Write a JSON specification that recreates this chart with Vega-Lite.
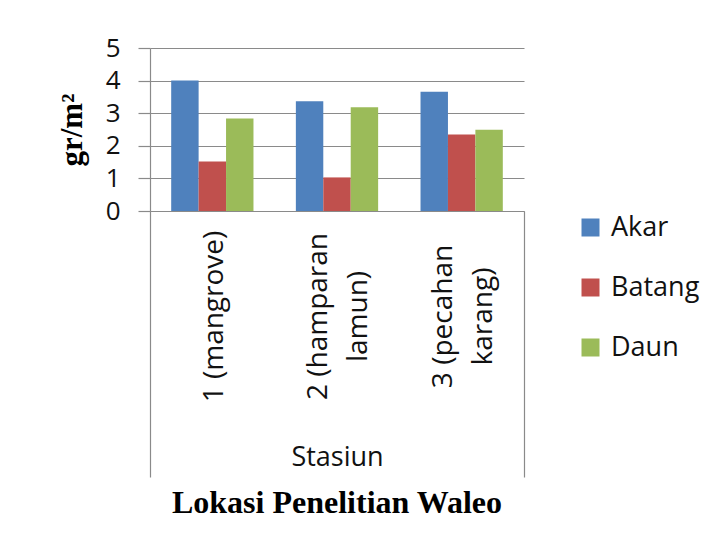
{
  "$schema": "https://vega.github.io/schema/vega-lite/v6.json",
  "width": 374,
  "height": 163,
  "autosize": "none",
  "padding": {"left": 150, "top": 48, "right": 196, "bottom": 342},
  "background": "white",
  "config": {
    "view": {"stroke": null},
    "font": "Open Sans",
    "axis": {"labelColor": "#111111", "titleColor": "#000000"}
  },
  "title": {
    "text": "Lokasi Penelitian Waleo",
    "orient": "bottom",
    "frame": "group",
    "anchor": "middle",
    "font": "Liberation Serif",
    "fontSize": 32,
    "fontWeight": "bold",
    "color": "#000000",
    "offset": 10
  },
  "data": {
    "values": [
      {"stasiun": "1 (mangrove)", "kelompok": "Stasiun", "bagian": "Akar", "nilai": 4.0},
      {"stasiun": "1 (mangrove)", "kelompok": "Stasiun", "bagian": "Batang", "nilai": 1.52},
      {"stasiun": "1 (mangrove)", "kelompok": "Stasiun", "bagian": "Daun", "nilai": 2.84},
      {"stasiun": "2 (hamparan lamun)", "kelompok": "Stasiun", "bagian": "Akar", "nilai": 3.37},
      {"stasiun": "2 (hamparan lamun)", "kelompok": "Stasiun", "bagian": "Batang", "nilai": 1.03},
      {"stasiun": "2 (hamparan lamun)", "kelompok": "Stasiun", "bagian": "Daun", "nilai": 3.18},
      {"stasiun": "3 (pecahan karang)", "kelompok": "Stasiun", "bagian": "Akar", "nilai": 3.66},
      {"stasiun": "3 (pecahan karang)", "kelompok": "Stasiun", "bagian": "Batang", "nilai": 2.35},
      {"stasiun": "3 (pecahan karang)", "kelompok": "Stasiun", "bagian": "Daun", "nilai": 2.49}
    ]
  },
  "layer": [
    {
      "mark": {"type": "bar"},
      "encoding": {
        "x": {
          "field": "stasiun",
          "type": "nominal",
          "sort": ["1 (mangrove)", "2 (hamparan lamun)", "3 (pecahan karang)"],
          "scale": {"paddingInner": 0.34, "paddingOuter": 0.17},
          "axis": {
            "orient": "bottom",
            "title": null,
            "ticks": false,
            "domain": true,
            "domainColor": "#8a8a8a",
            "domainWidth": 1.2,
            "labelAngle": -90,
            "labelAlign": "center",
            "labelBaseline": "middle",
            "labelPadding": 105,
            "labelLineHeight": 40,
            "labelFontSize": 28,
            "labelFont": "Open Sans",
            "labelOffset": {"condition": {"test": "datum.value == '1 (mangrove)'", "value": 3}, "value": -18},
            "labelExpr": "datum.label == '2 (hamparan lamun)' ? ['2 (hamparan', 'lamun)'] : datum.label == '3 (pecahan karang)' ? ['3 (pecahan', 'karang)'] : datum.label"
          }
        },
        "xOffset": {
          "field": "bagian",
          "type": "nominal",
          "sort": ["Akar", "Batang", "Daun"],
          "scale": {"paddingInner": 0, "paddingOuter": 0}
        },
        "y": {
          "field": "nilai",
          "type": "quantitative",
          "scale": {"domain": [0, 5], "nice": false},
          "axis": {
            "values": [0, 1, 2, 3, 4, 5],
            "title": "gr/m²",
            "titleFont": "Liberation Serif",
            "titleFontSize": 31,
            "titleFontWeight": "bold",
            "titlePadding": 17,
            "labelFontSize": 26,
            "labelFont": "Open Sans",
            "labelPadding": 18,
            "tickSize": 12,
            "tickColor": "#8a8a8a",
            "tickWidth": 1.2,
            "domainColor": "#8a8a8a",
            "domainWidth": 1.2,
            "grid": true,
            "gridColor": "#8a8a8a",
            "gridWidth": 1.2
          }
        },
        "color": {
          "field": "bagian",
          "type": "nominal",
          "scale": {"domain": ["Akar", "Batang", "Daun"], "range": ["#4F81BD", "#C0504D", "#9BBB59"]},
          "legend": {
            "title": null,
            "orient": "none",
            "legendX": 427,
            "legendY": 166,
            "padding": 0,
            "symbolType": "square",
            "symbolSize": 324,
            "symbolStrokeWidth": 0,
            "symbolOpacity": 1,
            "labelFontSize": 27,
            "labelFont": "Open Sans",
            "labelColor": "#111111",
            "labelOffset": 7,
            "rowPadding": 32
          }
        }
      }
    },
    {
      "mark": {"type": "rule", "opacity": 0},
      "encoding": {
        "x": {
          "field": "kelompok",
          "type": "nominal",
          "scale": {"paddingInner": 0, "paddingOuter": 0},
          "axis": {
            "orient": "bottom",
            "title": null,
            "domain": false,
            "ticks": true,
            "tickBand": "extent",
            "tickSize": 266,
            "tickColor": "#8a8a8a",
            "tickWidth": 1.2,
            "labelAngle": 0,
            "labelAlign": "center",
            "labelBaseline": "alphabetic",
            "labelPadding": -12,
            "labelFontSize": 27,
            "labelFont": "Open Sans"
          }
        }
      }
    }
  ],
  "resolve": {"scale": {"x": "independent"}, "axis": {"x": "independent"}}
}
